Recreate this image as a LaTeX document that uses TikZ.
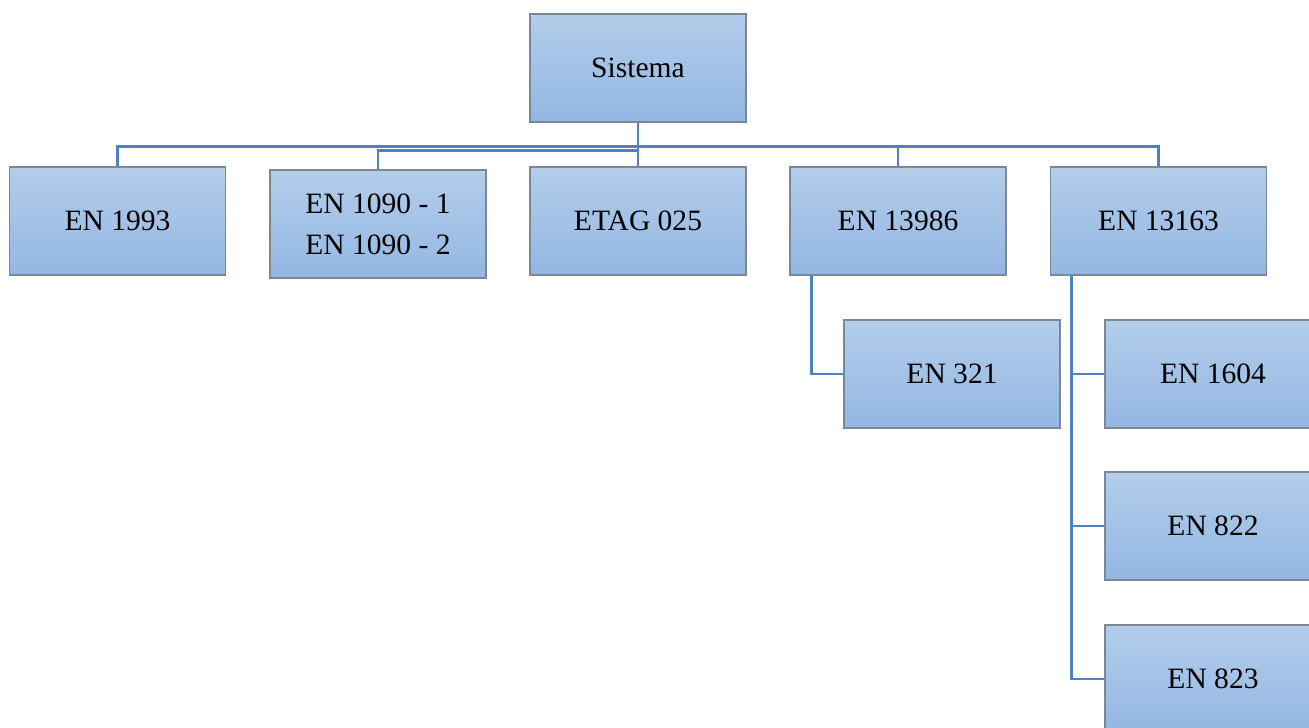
\documentclass[tikz,border=0pt]{standalone}
\usepackage{fontspec}
\setmainfont{Liberation Serif}
\usetikzlibrary{calc}

\definecolor{boxtop}{HTML}{B3CDEA}
\definecolor{boxbot}{HTML}{93B7E3}
\definecolor{boxline}{HTML}{7D8794}
\definecolor{linkblue}{HTML}{4F81BD}

\tikzset{
  normbox/.style={draw=boxline, line width=0.4pt, top color=boxtop, bottom color=boxbot,
    minimum width=2.16cm, minimum height=1.08cm, inner sep=0pt, align=center,
    font=\fontsize{8.4}{11.6}\selectfont},
  link/.style={draw=linkblue, line width=0.8pt}
}

\begin{document}
\begin{tikzpicture}[x=0.01cm, y=-0.01cm]
\useasboundingbox (0,0) rectangle (1309,727);

% top of the tree
\node[normbox] (sis) at (638,68) {Sistema};

% first level
\node[normbox] (en1993) at (117.5,221) {EN 1993};
\node[normbox] (en1090) at (378,224) {EN 1090 - 1\\EN 1090 - 2};
\node[normbox] (etag) at (638,221) {ETAG 025};
\node[normbox] (en13986) at (898,221) {EN 13986};
\node[normbox] (en13163) at (1158.5,221) {EN 13163};

% second level
\node[normbox] (en321) at (952,374) {EN 321};
\node[normbox] (en1604) at (1213,374) {EN 1604};
\node[normbox] (en822) at (1213,526) {EN 822};
\node[normbox] (en823) at (1213,679) {EN 823};

% links from Sistema
\coordinate (bus) at ($(sis.south)+(0,24)$);
\coordinate (bus2) at ($(sis.south)+(0,28)$);
\draw[link] (sis.south) -- (bus) -| (en1993.north);
\draw[link] (sis.south) -- (bus2) -| (en1090.north);
\draw[link] (sis.south) -- (etag.north);
\draw[link] (bus) -| (en13986.north);
\draw[link] (bus) -| (en13163.north);

% links to the second level
\coordinate (leftA) at ($(en13986.south west)+(22,0)$);
\coordinate (leftB) at ($(en13163.south west)+(22,0)$);
\draw[link] (leftA) |- (en321.west);
\draw[link] (leftB) |- (en1604.west);
\draw[link] (leftB) |- (en822.west);
\draw[link] (leftB) |- (en823.west);
\end{tikzpicture}
\end{document}
